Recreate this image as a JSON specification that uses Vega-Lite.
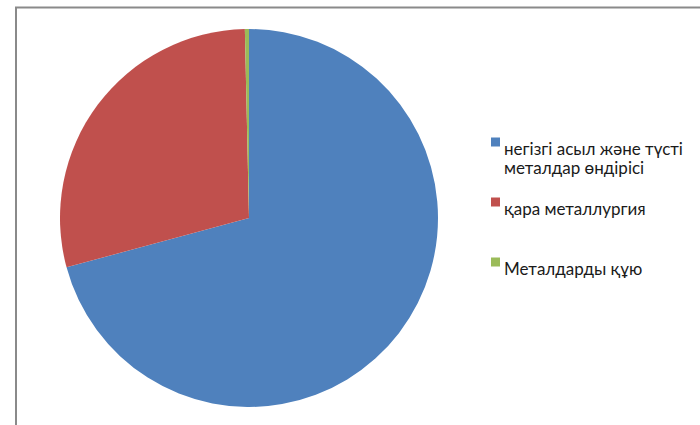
{
  "$schema": "https://vega.github.io/schema/vega-lite/v6.json",
  "width": 700,
  "height": 425,
  "autosize": "none",
  "padding": {"left": 16, "top": 7.5, "right": 0, "bottom": 0},
  "background": "white",
  "config": {
    "view": {"stroke": null},
    "font": "Lato"
  },
  "data": {
    "values": [
      {"category": "негізгі асыл және түсті металдар өндірісі", "value": 70.8, "order": 1},
      {"category": "қара металлургия", "value": 28.85, "order": 2},
      {"category": "Металдарды құю", "value": 0.35, "order": 3}
    ]
  },
  "layer": [
    {
      "data": {"values": [{"frame": 1}]},
      "mark": {"type": "rect", "fill": null, "stroke": "#8a8a8a", "strokeWidth": 2},
      "encoding": {}
    },
    {
      "mark": {"type": "arc", "x": 233, "y": 210.5, "outerRadius": 189, "stroke": null},
      "encoding": {
        "theta": {"field": "value", "type": "quantitative", "stack": true},
        "order": {"field": "order", "type": "quantitative"},
        "color": {
          "field": "category",
          "type": "nominal",
          "sort": ["негізгі асыл және түсті металдар өндірісі", "қара металлургия", "Металдарды құю"],
          "scale": {
            "domain": ["негізгі асыл және түсті металдар өндірісі", "қара металлургия", "Металдарды құю"],
            "range": ["#4F81BD", "#C0504D", "#9BBB59"]
          },
          "legend": {
            "title": null,
            "orient": "none",
            "legendX": 471,
            "legendY": 126,
            "padding": 0,
            "gridAlign": "all",
            "symbolType": "square",
            "symbolSize": 81,
            "symbolStrokeWidth": 0,
            "labelFontSize": 17,
            "labelColor": "#1a1a1a",
            "labelFont": "Lato",
            "labelOffset": 0,
            "labelLimit": 300,
            "labelBaseline": "top",
            "labelLineHeight": 25,
            "rowPadding": 16,
            "labelExpr": "datum.label == 'негізгі асыл және түсті металдар өндірісі' ? ['негізгі асыл және түсті', 'металдар өндірісі'] : datum.label"
          }
        }
      }
    }
  ]
}
